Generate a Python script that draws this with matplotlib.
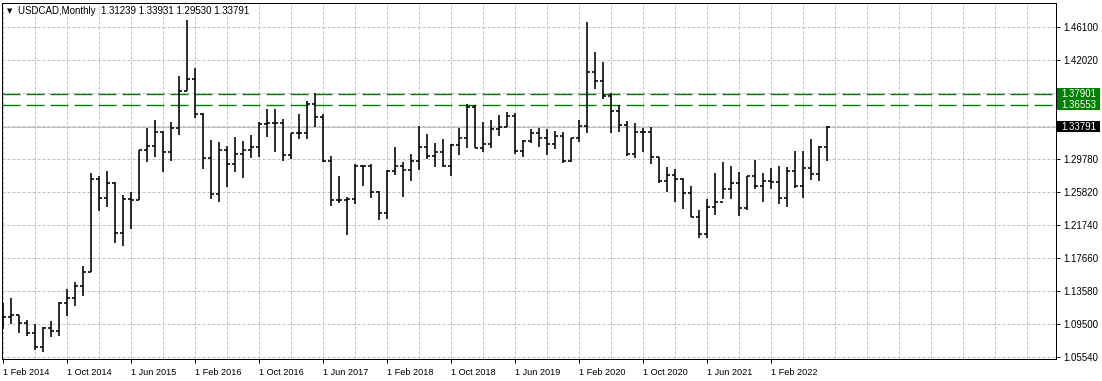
import matplotlib
matplotlib.use("Agg")
import matplotlib.pyplot as plt
import matplotlib.transforms as mtransforms
from matplotlib.patches import Rectangle
import numpy as np

plt.rcParams['font.family'] = ['Liberation Sans', 'DejaVu Sans']
plt.rcParams['lines.scale_dashes'] = False

# ---------------- data: USDCAD monthly bars, Feb 2014 .. Sep 2022 ----------------
first_open = 1.1140
highs = [
    1.1198, 1.1259, 1.1053, 1.0991, 1.0942, 1.0908, 1.0979, 1.1210, 1.1374, 1.1457, 1.1659,  # 2014 Feb-Dec
    1.2805, 1.2772, 1.2833, 1.2701, 1.2537, 1.2570, 1.3093, 1.3361, 1.3464, 1.3324, 1.3439, 1.4008,  # 2015
    1.4700, 1.4103, 1.3547, 1.3217, 1.3196, 1.3146, 1.3257, 1.3208, 1.3278, 1.3439, 1.3600, 1.3600,  # 2016
    1.3476, 1.3307, 1.3534, 1.3699, 1.3794, 1.3538, 1.3023, 1.2775, 1.2516, 1.2920, 1.2908, 1.2920,  # 2017
    1.2586, 1.2846, 1.3134, 1.2941, 1.3044, 1.3390, 1.3291, 1.3176, 1.3229, 1.3167, 1.3361, 1.3662,  # 2018
    1.3649, 1.3443, 1.3464, 1.3526, 1.3559, 1.3547, 1.3217, 1.3349, 1.3361, 1.3349, 1.3328, 1.3319,  # 2019
    1.3245, 1.3464, 1.4679, 1.4308, 1.4185, 1.3794, 1.3649, 1.3452, 1.3423, 1.3369, 1.3381, 1.3003,  # 2020
    1.2887, 1.2858, 1.2743, 1.2652, 1.2351, 1.2483, 1.2805, 1.2941, 1.2899, 1.2817, 1.2775, 1.2969,  # 2021
    1.2805, 1.2867, 1.2899, 1.2879, 1.3084, 1.3084, 1.3229, 1.3142, 1.33931,                          # 2022
]
lows = [
    1.0880, 1.0938, 1.0834, 1.0797, 1.0620, 1.0599, 1.0785, 1.0797, 1.1044, 1.1168, 1.1292,
    1.1581, 1.2343, 1.2392, 1.1939, 1.1910, 1.2113, 1.2475, 1.2948, 1.3003, 1.2825, 1.2953, 1.3282,
    1.3819, 1.3485, 1.2854, 1.2487, 1.2454, 1.2639, 1.2825, 1.2751, 1.2990, 1.3003, 1.3257, 1.3072,
    1.2961, 1.2978, 1.3225, 1.3225, 1.3381, 1.2945, 1.2404, 1.2434, 1.2042, 1.2425, 1.2652, 1.2503,
    1.2228, 1.2240, 1.2784, 1.2516, 1.2713, 1.2846, 1.2978, 1.2879, 1.2879, 1.2772, 1.3031, 1.3114,
    1.3114, 1.3072, 1.3114, 1.3266, 1.3381, 1.3044, 1.3010, 1.3176, 1.3126, 1.3031, 1.3109, 1.2936,
    1.2948, 1.3196, 1.3307, 1.3844, 1.3724, 1.3307, 1.3319, 1.3019, 1.2990, 1.3072, 1.2916, 1.2689,
    1.2577, 1.2454, 1.2360, 1.2261, 1.2001, 1.2001, 1.2289, 1.2483, 1.2483, 1.2281, 1.2351, 1.2611,
    1.2446, 1.2611, 1.2422, 1.2392, 1.2619, 1.2503, 1.2722, 1.2710, 1.29530,
]
closes = [
    1.1032, 1.1049, 1.0958, 1.0834, 1.0654, 1.0889, 1.0855, 1.1201, 1.1267, 1.1415, 1.1588,
    1.2731, 1.2496, 1.2689, 1.2063, 1.2487, 1.2475, 1.3093, 1.3142, 1.3312, 1.3065, 1.3369, 1.3823,
    1.3967, 1.3534, 1.2994, 1.2553, 1.3089, 1.2920, 1.3040, 1.3093, 1.3126, 1.3414, 1.3431, 1.3431,
    1.3028, 1.3307, 1.3307, 1.3658, 1.3497, 1.2953, 1.2471, 1.2471, 1.2487, 1.2899, 1.2899, 1.2570,
    1.2318, 1.2833, 1.2899, 1.2846, 1.2957, 1.3134, 1.3019, 1.3065, 1.2899, 1.3155, 1.3238, 1.3628,
    1.3114, 1.3167, 1.3349, 1.3381, 1.3513, 1.3081, 1.3204, 1.3300, 1.3238, 1.3164, 1.3266, 1.2961,
    1.3241, 1.3390, 1.4054, 1.3946, 1.3761, 1.3575, 1.3402, 1.3040, 1.3312, 1.3312, 1.3010, 1.2710,
    1.2784, 1.2734, 1.2565, 1.2268, 1.2051, 1.2385, 1.2454, 1.2607, 1.2681, 1.2372, 1.2772, 1.2648,
    1.2710, 1.2694, 1.2496, 1.2833, 1.2648, 1.2867, 1.2793, 1.31239, 1.33791,
]
opens = [first_open] + closes[:-1]

x_tick_labels = ['1 Feb 2014', '1 Oct 2014', '1 Jun 2015', '1 Feb 2016', '1 Oct 2016',
                 '1 Jun 2017', '1 Feb 2018', '1 Oct 2018', '1 Jun 2019', '1 Feb 2020',
                 '1 Oct 2020', '1 Jun 2021', '1 Feb 2022']
y_grid = [1.4610, 1.4202, 1.3794, 1.3386, 1.2978, 1.2570, 1.2162, 1.1754, 1.1346, 1.0938, 1.0530]
y_tick_labels = ['1.46100', '1.42020', '', '', '1.29780', '1.25820', '1.21740',
                 '1.17660', '1.13580', '1.09500', '1.05540']
level_lines = [1.37901, 1.36553]
bid_price = closes[-1]
symbol_title = 'USDCAD,Monthly'

# ---------------- figure ----------------
W, H = 1102, 381
fig = plt.figure(figsize=(W / 100, H / 100), dpi=100, facecolor='white')
ax_l, ax_r, ax_t, ax_b = 2.3, 1056.3, 2.7, 359.3
ax = fig.add_axes([ax_l / W, (H - ax_b) / H, (ax_r - ax_l) / W, (ax_b - ax_t) / H])
n = len(closes)
x = np.arange(n)
ymin, ymax = 1.05052, 1.49142
ax.set_xlim(-0.125, 131.625)
ax.set_ylim(ymin, ymax)
px_per_price = (ax_b - ax_t) / (ymax - ymin)

px = 0.72  # one pixel in points
grid_kw = dict(color='#c0c0c0', lw=px, dashes=(3 * px, 2 * px), zorder=0)
for yv in y_grid:
    ax.axhline(yv, **grid_kw)
for xv in range(0, 132, 4):
    ax.axvline(xv, **grid_kw)

# bid line
ax.axhline(bid_price, color='#c0c0c0', lw=px, zorder=1)
# horizontal levels
for lv in level_lines:
    ax.axhline(lv, color='#008000', lw=1.4 * px, dashes=(18 * px, 6 * px), zorder=2)

# OHLC bars
bar_lw = 1.6 * px
tick_len = 3 / 8.0
ax.vlines(x, lows, highs, color='black', lw=bar_lw, zorder=3)
ax.hlines(opens, x - tick_len, x, color='black', lw=bar_lw, zorder=3)
ax.hlines(closes, x, x + tick_len, color='black', lw=bar_lw, zorder=3)

for s in ax.spines.values():
    s.set_color('black')
    s.set_linewidth(px)

ax.set_xticks(np.arange(0, 8 * len(x_tick_labels), 8))
ax.set_xticklabels(x_tick_labels, ha='left', fontsize=6.6)
ax.tick_params(axis='x', direction='out', length=3, width=px, pad=3)
ax.yaxis.tick_right()
ax.set_yticks(y_grid)
ax.set_yticklabels(y_tick_labels, fontsize=7)
ax.tick_params(axis='y', direction='out', length=3, width=px, pad=2)

# price label boxes on the right (x in figure pixels, y in price)
trans = mtransforms.blended_transform_factory(fig.transFigure, ax.transData)
box_x0, box_x1 = 1057.3 / W, 1100.0 / W
up, down = 6.0 / px_per_price, 5.0 / px_per_price
labels = [(lv, '#008000') for lv in level_lines] + [(bid_price, 'black')]
for lv, col in labels:
    ax.add_patch(Rectangle((box_x0, lv - down), box_x1 - box_x0, up + down,
                           transform=trans, fc=col, ec='none', zorder=5, clip_on=False))
for lv, col in labels:
    ax.text(1061.0 / W, lv, f'{lv:.5f}', transform=trans, ha='left', va='center',
            fontsize=7, color='white', zorder=6, clip_on=False)

# title
fig.text(6.5 / W, 1 - 11.5 / H, '\u25bc', family='DejaVu Sans', fontsize=5, va='center', ha='left')
title = f'{symbol_title}  {opens[-1]:.5f} {highs[-1]:.5f} {lows[-1]:.5f} {closes[-1]:.5f}'
fig.text(18 / W, 1 - 11 / H, title, fontsize=7, va='center', ha='left', color='black')

fig.savefig('out.png', dpi=100, facecolor='white')
